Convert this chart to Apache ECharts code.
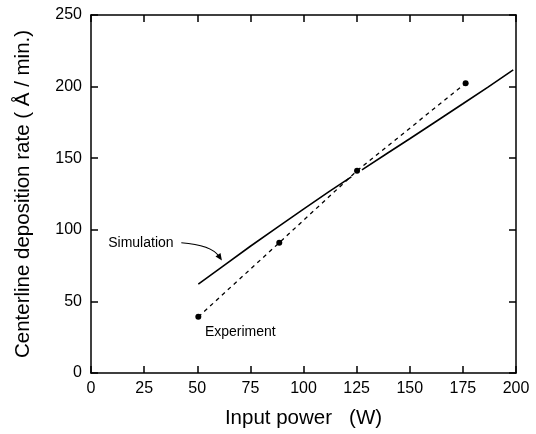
<!DOCTYPE html>
<html>
<head>
<meta charset="utf-8">
<script src="https://cdn.jsdelivr.net/npm/echarts@6/dist/echarts.min.js"></script>
<style>html,body{margin:0;padding:0;background:#fff;}#c{width:536px;height:434px;}</style>
</head>
<body>
<div id="c"></div>
<script>
// Data
var xTicks = [0, 25, 50, 75, 100, 125, 150, 175, 200];
var yTicks = [0, 50, 100, 150, 200, 250];
var simX = [50.5, 62, 75, 88, 100, 112, 122.5, 125, 127.5, 140, 150, 162, 175, 187, 198.7];
var simY = [62, 74.5, 88.5, 102, 114.5, 126.7, 137, null, 141.9, 154, 163.6, 175.3, 188, 199.8, 211.7];
var expX = [50.5, 88.6, 125.2, 176.3];
var expY = [39.2, 91, 141.2, 202.4];
var xTitle = 'Input power   (W)';
var yTitle = 'Centerline deposition rate ( \u00C5 / min.)';
var simLabel = 'Simulation';
var expLabel = 'Experiment';

var FONT = '"Liberation Sans", Arial, Helvetica, sans-serif';
var chart = echarts.init(document.getElementById('c'), null, {renderer: 'canvas'});

function pairs(xs, ys) { return xs.map(function (x, i) { return [x, ys[i]]; }); }

function axisLine() { return {show: true, onZero: false, lineStyle: {color: '#000', width: 1.5}}; }
function tick() { return {show: true, inside: true, length: 7, lineStyle: {color: '#000', width: 1.5}}; }

var option = {
  animation: false,
  backgroundColor: '#fff',
  grid: {left: 91, right: 20, top: 15, bottom: 60, containLabel: false},
  xAxis: [{
    type: 'value', min: xTicks[0], max: xTicks[xTicks.length - 1], interval: 25,
    position: 'bottom',
    axisLine: axisLine(), axisTick: tick(), splitLine: {show: false},
    axisLabel: {color: '#000', fontSize: 16, fontFamily: FONT, margin: 8},
    name: xTitle, nameLocation: 'middle', nameGap: 35,
    nameTextStyle: {color: '#000', fontSize: 20.5, fontFamily: FONT}
  }, {
    type: 'value', min: xTicks[0], max: xTicks[xTicks.length - 1], interval: 25,
    position: 'top',
    axisLine: axisLine(), axisTick: tick(), splitLine: {show: false},
    axisLabel: {show: false}
  }],
  yAxis: [{
    type: 'value', min: yTicks[0], max: yTicks[yTicks.length - 1], interval: 50,
    position: 'left',
    axisLine: axisLine(), axisTick: tick(), splitLine: {show: false},
    axisLabel: {color: '#000', fontSize: 16, fontFamily: FONT, margin: 9},
    name: yTitle, nameLocation: 'middle', nameGap: 57,
    nameTextStyle: {color: '#000', fontSize: 20.5, fontFamily: FONT}
  }, {
    type: 'value', min: yTicks[0], max: yTicks[yTicks.length - 1], interval: 50,
    position: 'right',
    axisLine: axisLine(), axisTick: tick(), splitLine: {show: false},
    axisLabel: {show: false}
  }],
  series: [{
    name: simLabel, type: 'line', data: pairs(simX, simY), connectNulls: false,
    showSymbol: false, symbol: 'none',
    lineStyle: {color: '#000', width: 1.6}, z: 3
  }, {
    name: expLabel, type: 'line', data: pairs(expX, expY),
    symbol: 'circle', symbolSize: 6, showSymbol: true,
    itemStyle: {color: '#000'},
    lineStyle: {color: '#000', width: 1.3, type: [4, 4]}, z: 4
  }]
};
chart.setOption(option);

function px(p) { return chart.convertToPixel({xAxisIndex: 0, yAxisIndex: 0}, p); }

// annotation anchors in data units
var simTextAt = [8.1, 91];
var expTextAt = [53.6, 28.5];
var arrowStart = [42.5, 91], arrowC1 = [52, 90], arrowC2 = [58, 86.5], arrowEnd = [61.6, 78.5];

var s = px(arrowStart), c1 = px(arrowC1), c2 = px(arrowC2), e = px(arrowEnd);
var dx = e[0] - c2[0], dy = e[1] - c2[1], L = Math.sqrt(dx * dx + dy * dy);
var ux = dx / L, uy = dy / L, hl = 7, hw = 3;
var bx = e[0] - ux * hl, by = e[1] - uy * hl;
var st = px(simTextAt), et = px(expTextAt);

chart.setOption({
  graphic: [
    {type: 'text', x: st[0], y: st[1], z: 10,
      style: {text: simLabel, fill: '#000', font: '14px ' + FONT, textAlign: 'left', textVerticalAlign: 'middle'}},
    {type: 'text', x: et[0], y: et[1], z: 10,
      style: {text: expLabel, fill: '#000', font: '14px ' + FONT, textAlign: 'left', textVerticalAlign: 'middle'}},
    {type: 'bezierCurve', z: 10,
      shape: {x1: s[0], y1: s[1], cpx1: c1[0], cpy1: c1[1], cpx2: c2[0], cpy2: c2[1], x2: bx + ux * 2, y2: by + uy * 2},
      style: {stroke: '#000', lineWidth: 1.1, fill: null}},
    {type: 'polygon', z: 10,
      shape: {points: [[e[0], e[1]], [bx - uy * hw, by + ux * hw], [bx + uy * hw, by - ux * hw]]},
      style: {fill: '#000'}}
  ]
});
</script>
</body>
</html>
